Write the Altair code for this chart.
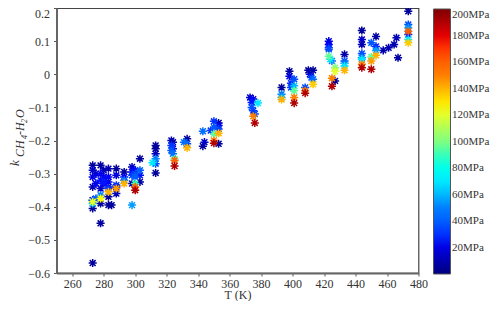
import altair as alt
import pandas as pd

STAR = "M-1,0L1,0M0,-1L0,1M-.72,-.72L.72,.72M-.72,.72L.72,-.72"

temps = [273,273,273,273,273,273,273,273,273,273,275,275,275,278,278,278,278,278,278,278,278,280,280,280,280,
         283,283,283,283,283,283,283,283,285,288,288,288,288,288,288,293,293,293,293,298,298,298,298,298,
         300,300,300,300,300,300,303,303,303,303,
         311,313,313,313,313,313,313,323,323,323,324,324,324,325,325,325,333,333,333,331,
         343,344,343,348,350,350,350,350,350,353,353,353,353,353,
         373,374,374,375,375,376,378,375,376,
         393,393,393,393,398,398,399,399,401,401,401,401,401,
         408,408,408,410,411,412,413,413,413,
         423,423,423,423,423,424,425,427,427,425,425,427,
         433,433,433,433,433,444,444,444,444,444,444,444,444,450,450,450,450,453,453,453,453,
         457.6,461,464.5,466,467,473.5,473.5,473.5,473.5,473.5,473.5,473.5]
kvals = [-0.57,-0.405,-0.39,-0.385,-0.38,-0.275,-0.29,-0.31,-0.34,-0.38,-0.375,-0.30,-0.33,-0.45,-0.375,-0.365,-0.275,-0.30,-0.32,-0.345,-0.39,-0.29,-0.31,-0.325,-0.33,
         -0.355,-0.345,-0.395,-0.285,-0.31,-0.325,-0.34,-0.37,-0.395,-0.345,-0.335,-0.36,-0.285,-0.305,-0.34,-0.33,-0.32,-0.295,-0.31,-0.395,-0.28,-0.295,-0.305,-0.33,
         -0.35,-0.34,-0.33,-0.31,-0.30,-0.29,-0.255,-0.29,-0.325,-0.305,
         -0.267,-0.298,-0.27,-0.255,-0.24,-0.225,-0.215,-0.20,-0.215,-0.23,-0.24,-0.225,-0.205,-0.277,-0.26,-0.256,-0.195,-0.21,-0.222,-0.205,
         -0.217,-0.205,-0.172,-0.17,-0.142,-0.16,-0.18,-0.20,-0.208,-0.147,-0.155,-0.165,-0.178,-0.21,
         -0.07,-0.085,-0.10,-0.075,-0.11,-0.12,-0.087,-0.127,-0.147,
         -0.04,-0.06,-0.07,-0.076,0.009,-0.006,-0.027,-0.04,-0.015,-0.035,-0.05,-0.07,-0.087,
         -0.05,-0.04,-0.057,0.012,0.0,-0.01,0.012,-0.015,-0.03,
         0.10,0.09,0.08,0.075,0.054,0.045,0.04,0.02,0.009,-0.012,-0.036,-0.02,
         0.06,0.04,0.033,0.025,0.012,0.132,0.105,0.09,0.063,0.05,0.045,0.03,0.02,0.095,0.052,0.04,0.015,0.114,0.084,0.072,0.057,
         0.072,0.08,0.09,0.11,0.05,0.19,0.15,0.14,0.13,0.12,0.105,0.095]
press = [6,6,60,120,30,6,14,20,10,14,40,14,22,6,125,50,6,22,26,14,6,10,22,26,24,
         140,30,6,10,24,22,14,6,6,145,30,12,6,18,14,140,50,6,22,55,14,24,32,10,
         190,160,90,40,34,24,6,40,8,26,
         70,6,35,50,12,6,6,10,30,38,45,22,8,190,160,95,6,35,140,45,
         6,14,45,30,30,38,95,150,190,6,22,32,140,6,
         14,26,36,22,28,34,70,150,190,
         6,48,60,140,6,18,28,34,36,60,95,150,190,
         150,34,190,6,14,30,6,45,135,
         18,24,28,36,95,70,45,100,120,150,190,6,
         8,36,48,70,140,6,14,10,36,48,70,150,190,38,95,145,190,8,28,55,140,
         10,10,10,12,8,6,35,55,160,28,70,135]

df = pd.DataFrame({"T": temps, "k": kvals, "P": press}).sort_values("P")

jet = ["#00007f", "#0000ff", "#007fff", "#00ffff", "#7fff7f", "#ffff00", "#ff7f00", "#ff0000", "#7f0000"]
FONT = "Liberation Serif"
TEXT = "#333333"

points = alt.Chart(df).mark_point(shape=STAR, filled=False, size=66, strokeWidth=1.5, opacity=1).encode(
    x=alt.X("T:Q", scale=alt.Scale(domain=[250, 480], nice=False),
            axis=alt.Axis(values=list(range(260, 481, 20)), title="T (K)", grid=False, tickSize=3, tickColor="#555",
                          domainColor="#666", domainWidth=2, labelColor=TEXT, titleColor=TEXT, titleFontWeight="normal",
                          labelFontSize=12, titleFontSize=12, labelPadding=2, titlePadding=0, labelFlush=False)),
    y=alt.Y("k:Q", scale=alt.Scale(domain=[-0.6, 0.2], nice=False),
            axis=alt.Axis(values=[-0.6,-0.5,-0.4,-0.3,-0.2,-0.1,0,0.1,0.2], title=None, grid=False, tickSize=3, tickColor="#555",
                          domainColor="#666", domainWidth=2, labelColor=TEXT,
                          labelFontSize=12, labelPadding=4, labelFlush=False,
                          labelBaseline=alt.expr("datum.value > 0.19 ? 'top' : 'middle'"),
                          labelExpr="datum.value === 0 ? '0' : format(datum.value, '.1f')")),
    color=alt.Color("P:Q", scale=alt.Scale(domain=[0, 200], range=jet),
                    legend=alt.Legend(title=None, orient="none", legendX=377, legendY=1, direction="vertical",
                                      gradientLength=265, gradientThickness=17, gradientStrokeColor="#555", gradientStrokeWidth=1,
                                      values=list(range(20, 201, 20)), labelExpr="datum.value + 'MPa'",
                                      labelFontSize=11, labelColor=TEXT, labelOverlap=False, labelOffset=1.5)),
)

label_parts = ["k", "CH", "4", "-H", "2", "O"]
label_sizes = [13, 12, 8, 12, 8, 12]
label_x = [-38, -33, -30, -33, -30, -33]
label_y = [158, 149, 131, 127, 115, 110]
layers = [points]
for txt, fs, xo, yo in zip(label_parts, label_sizes, label_x, label_y):
    layers.append(alt.Chart(pd.DataFrame({"t": [txt]})).mark_text(
        text=txt, font=FONT, fontStyle="italic", fontSize=fs, angle=270, color=TEXT,
        align="left", baseline="alphabetic").encode(x=alt.value(xo), y=alt.value(yo)))

chart = alt.layer(*layers).properties(
    width=362, height=265,
    autosize=alt.AutoSizeParams(type="none"),
    padding={"left": 48.5, "top": 0, "right": 71.5, "bottom": 28},
).configure(font=FONT).configure_view(stroke="#444", strokeWidth=1.2)

chart.save("out.html", embed_options={"renderer": "svg", "actions": False})
